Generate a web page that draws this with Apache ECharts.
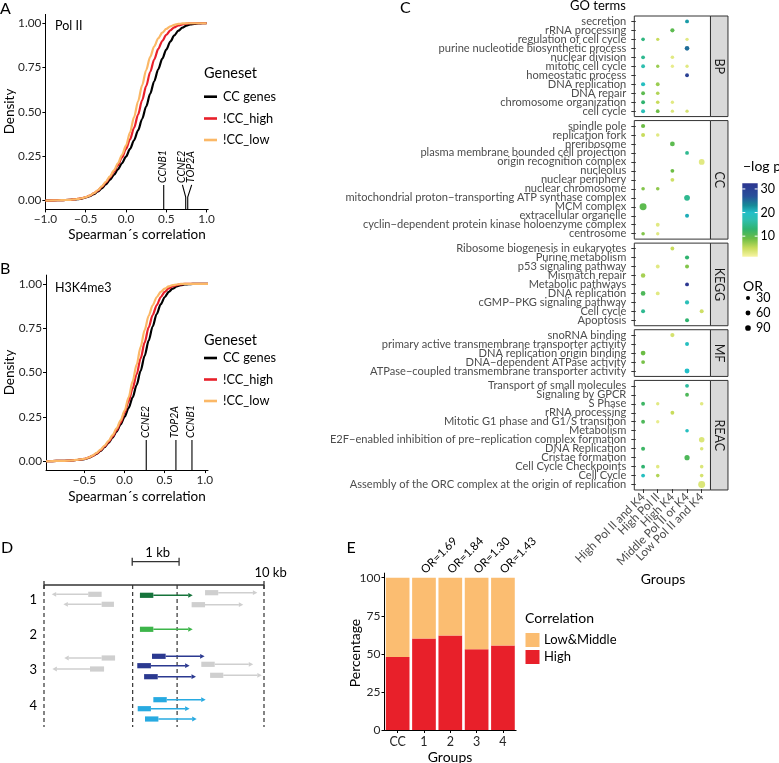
<!DOCTYPE html>
<html><head><meta charset="utf-8">
<script src="https://cdn.jsdelivr.net/npm/echarts@6/dist/echarts.min.js"></script>
<style>html,body{margin:0;padding:0;background:#fff}#c{width:779px;height:763px}</style>
</head><body><div id="c"></div>
<script>
// ================= DATA =================
// Panel A (Pol II): cumulative fraction vs Spearman's correlation, [correlation, fraction]
const polII_CC = [[-1,0],[-0.9,0.001],[-0.8,0.002],[-0.7,0.004],[-0.65,0.006],[-0.6,0.008],[-0.55,0.011],[-0.5,0.017],[-0.45,0.025],[-0.4,0.036],[-0.35,0.051],[-0.3,0.069],[-0.25,0.091],[-0.2,0.116],[-0.15,0.144],[-0.1,0.176],[-0.05,0.21],[0,0.248],[0.05,0.291],[0.1,0.34],[0.15,0.396],[0.2,0.46],[0.25,0.53],[0.3,0.602],[0.35,0.673],[0.4,0.74],[0.45,0.8],[0.5,0.852],[0.55,0.897],[0.6,0.932],[0.65,0.958],[0.7,0.975],[0.75,0.987],[0.8,0.993],[0.85,0.997],[0.9,0.999],[0.95,1],[1,1]];
const polII_high = [[-1,0],[-0.9,0.001],[-0.8,0.002],[-0.7,0.004],[-0.65,0.006],[-0.6,0.009],[-0.55,0.013],[-0.5,0.019],[-0.45,0.028],[-0.4,0.04],[-0.35,0.056],[-0.3,0.077],[-0.25,0.102],[-0.2,0.13],[-0.15,0.163],[-0.1,0.2],[-0.05,0.243],[0,0.29],[0.05,0.345],[0.1,0.41],[0.15,0.485],[0.2,0.565],[0.25,0.645],[0.3,0.725],[0.35,0.795],[0.4,0.855],[0.45,0.9],[0.5,0.935],[0.55,0.96],[0.6,0.977],[0.65,0.988],[0.7,0.994],[0.75,0.998],[0.8,1],[1,1]];
const polII_low = [[-1,0],[-0.9,0.001],[-0.8,0.002],[-0.7,0.004],[-0.65,0.006],[-0.6,0.009],[-0.55,0.013],[-0.5,0.019],[-0.45,0.028],[-0.4,0.041],[-0.35,0.058],[-0.3,0.08],[-0.25,0.106],[-0.2,0.136],[-0.15,0.17],[-0.1,0.21],[-0.05,0.257],[0,0.31],[0.05,0.385],[0.1,0.47],[0.15,0.56],[0.2,0.65],[0.25,0.735],[0.3,0.81],[0.35,0.87],[0.4,0.915],[0.45,0.947],[0.5,0.968],[0.55,0.982],[0.6,0.991],[0.65,0.996],[0.7,0.999],[0.75,1],[1,1]];
// marked genes: [correlation, label position, name]
const polII_genes = [[0.468,0.468,'CCNB1'],[0.741,0.70,'CCNE2'],[0.766,0.815,'TOP2A']];

// Panel B (H3K4me3)
const k4_CC = [[-0.98,0],[-0.9,0.001],[-0.8,0.002],[-0.7,0.003],[-0.65,0.005],[-0.6,0.007],[-0.55,0.009],[-0.5,0.012],[-0.45,0.019],[-0.4,0.029],[-0.35,0.042],[-0.3,0.058],[-0.25,0.079],[-0.2,0.104],[-0.15,0.134],[-0.1,0.168],[-0.05,0.207],[0,0.25],[0.05,0.3],[0.1,0.36],[0.15,0.43],[0.2,0.51],[0.25,0.595],[0.3,0.68],[0.35,0.76],[0.4,0.83],[0.45,0.885],[0.5,0.925],[0.55,0.955],[0.6,0.974],[0.65,0.986],[0.7,0.993],[0.75,0.997],[0.8,0.999],[0.85,1],[1.04,1]];
const k4_high = [[-0.98,0],[-0.9,0.001],[-0.8,0.002],[-0.7,0.003],[-0.65,0.005],[-0.6,0.007],[-0.55,0.01],[-0.5,0.013],[-0.45,0.02],[-0.4,0.03],[-0.35,0.044],[-0.3,0.061],[-0.25,0.083],[-0.2,0.109],[-0.15,0.14],[-0.1,0.175],[-0.05,0.218],[0,0.275],[0.05,0.338],[0.1,0.41],[0.15,0.49],[0.2,0.58],[0.25,0.67],[0.3,0.755],[0.35,0.825],[0.4,0.88],[0.45,0.925],[0.5,0.955],[0.55,0.975],[0.6,0.987],[0.65,0.994],[0.7,0.998],[0.75,1],[1.04,1]];
const k4_low = [[-0.98,0],[-0.9,0.001],[-0.8,0.002],[-0.7,0.003],[-0.65,0.005],[-0.6,0.008],[-0.55,0.01],[-0.5,0.014],[-0.45,0.021],[-0.4,0.032],[-0.35,0.047],[-0.3,0.065],[-0.25,0.088],[-0.2,0.115],[-0.15,0.147],[-0.1,0.185],[-0.05,0.23],[0,0.285],[0.05,0.36],[0.1,0.45],[0.15,0.545],[0.2,0.645],[0.25,0.74],[0.3,0.82],[0.35,0.88],[0.4,0.925],[0.45,0.955],[0.5,0.974],[0.55,0.986],[0.6,0.993],[0.65,0.997],[0.7,1],[1.04,1]];
const k4_genes = [[0.27,0.27,'CCNE2'],[0.64,0.64,'TOP2A'],[0.84,0.84,'CCNB1']];

const genesetNames = ['CC genes','!CC_high','!CC_low'];

// Panel C: GO terms dot plot. dots: [group index, term, -log p, OR]
const goGroups = ['High Pol II and K4','High Pol II','High K4','Middle Pol II or K4','Low Pol II and K4'];
const goTermsBP = ['secretion','rRNA processing','regulation of cell cycle','purine nucleotide biosynthetic process','nuclear division','mitotic cell cycle','homeostatic process','DNA replication','DNA repair','chromosome organization','cell cycle'];
const goDotsBP = [
 [3,'secretion',22,25],
 [2,'rRNA processing',10,35],
 [0,'regulation of cell cycle',14,20],[1,'regulation of cell cycle',5,12],[3,'regulation of cell cycle',3,12],
 [3,'purine nucleotide biosynthetic process',25,50],
 [0,'nuclear division',15,25],[2,'nuclear division',3,18],
 [0,'mitotic cell cycle',17,25],[1,'mitotic cell cycle',7,12],[2,'mitotic cell cycle',2.5,12],[3,'mitotic cell cycle',3,12],
 [3,'homeostatic process',30,25],
 [0,'DNA replication',19,35],[1,'DNA replication',7,25],
 [0,'DNA repair',10,25],[1,'DNA repair',6,18],
 [0,'chromosome organization',13,25],[1,'chromosome organization',5,18],[2,'chromosome organization',3,12],
 [0,'cell cycle',18,30],[1,'cell cycle',9,22],[2,'cell cycle',3.5,12],[3,'cell cycle',4,12]
];
const goTermsCC = ['spindle pole','replication fork','preribosome','plasma membrane bounded cell projection','origin recognition complex','nucleolus','nuclear periphery','nuclear chromosome','mitochondrial proton\u2212transporting ATP synthase complex','MCM complex','extracellular organelle','cyclin\u2212dependent protein kinase holoenzyme complex','centrosome'];
const goDotsCC = [
 [0,'spindle pole',9,35],
 [0,'replication fork',5,30],[1,'replication fork',3,18],
 [2,'preribosome',10,55],
 [3,'plasma membrane bounded cell projection',15,25],
 [4,'origin recognition complex',3,95],
 [2,'nucleolus',9,25],
 [2,'nuclear periphery',4.5,25],
 [0,'nuclear chromosome',8,18],[1,'nuclear chromosome',7.5,18],
 [3,'mitochondrial proton\u2212transporting ATP synthase complex',15,95],
 [0,'MCM complex',10,150],
 [3,'extracellular organelle',21,30],
 [1,'cyclin\u2212dependent protein kinase holoenzyme complex',3,25],
 [0,'centrosome',8,18],[1,'centrosome',3,12]
];
const goTermsKEGG = ['Ribosome biogenesis in eukaryotes','Purine metabolism','p53 signaling pathway','Mismatch repair','Metabolic pathways','DNA replication','cGMP\u2212PKG signaling pathway','Cell cycle','Apoptosis'];
const goDotsKEGG = [
 [2,'Ribosome biogenesis in eukaryotes',5,25],
 [3,'Purine metabolism',13,35],
 [1,'p53 signaling pathway',3,25],[3,'p53 signaling pathway',8,30],
 [0,'Mismatch repair',6.5,45],
 [3,'Metabolic pathways',32,25],
 [0,'DNA replication',11,50],[1,'DNA replication',3,25],
 [3,'cGMP\u2212PKG signaling pathway',18,35],
 [0,'Cell cycle',15,30],[4,'Cell cycle',4.5,30],
 [3,'Apoptosis',13,30]
];
const goTermsMF = ['snoRNA binding','primary active transmembrane transporter activity','DNA replication origin binding','DNA\u2212dependent ATPase activity','ATPase\u2212coupled transmembrane transporter activity'];
const goDotsMF = [
 [2,'snoRNA binding',4,35],
 [3,'primary active transmembrane transporter activity',19,30],
 [0,'DNA replication origin binding',9,55],
 [0,'DNA\u2212dependent ATPase activity',8.5,25],
 [3,'ATPase\u2212coupled transmembrane transporter activity',20,60]
];
const goTermsREAC = ['Transport of small molecules','Signaling by GPCR','S Phase','rRNA processing','Mitotic G1 phase and G1/S transition','Metabolism','E2F\u2212enabled inhibition of pre\u2212replication complex formation','DNA Replication','Cristae formation','Cell Cycle Checkpoints','Cell Cycle','Assembly of the ORC complex at the origin of replication'];
const goDotsREAC = [
 [3,'Transport of small molecules',16,25],
 [3,'Signaling by GPCR',11,25],
 [0,'S Phase',12,25],[1,'S Phase',3,12],[4,'S Phase',3,18],
 [2,'rRNA processing',5,25],
 [0,'Mitotic G1 phase and G1/S transition',11,25],[1,'Mitotic G1 phase and G1/S transition',2.5,12],
 [3,'Metabolism',19,18],
 [4,'E2F\u2212enabled inhibition of pre\u2212replication complex formation',3.5,85],
 [0,'DNA Replication',12,30],[4,'DNA Replication',3.5,18],
 [3,'Cristae formation',11,70],
 [0,'Cell Cycle Checkpoints',13,25],[1,'Cell Cycle Checkpoints',3,18],[4,'Cell Cycle Checkpoints',3.5,18],
 [0,'Cell Cycle',19,25],[1,'Cell Cycle',6,18],[4,'Cell Cycle',4,18],
 [4,'Assembly of the ORC complex at the origin of replication',3.5,150]
];
const logpTicks = [10,20,30];
const orLegend = [30,60,90];

// Panel E
const eGroups = ['CC','1','2','3','4'];
const eHigh = [48,60,62,53,55.5];
const eLowMiddle = [52,40,38,47,44.5];
const eOR = ['','OR=1.69','OR=1.84','OR=1.30','OR=1.43'];

// Panel D schematic: genes [TSS, end of thick box, arrow tip, lane, colour index] (x in schematic kb units)
const dGenes = [
 [2.62,2.01,0.35,0.93,0],[3.18,2.62,0.88,1.93,0],[4.36,4.97,6.76,1.03,1],[7.32,7.92,9.70,0.77,0],[6.71,7.32,9.06,1.97,0],
 [4.36,4.97,6.76,4.43,2],
 [3.23,2.62,0.92,7.3,0],[2.73,2.09,0.38,8.4,0],[4.91,5.53,7.30,7.13,3],[4.24,4.86,6.62,8.07,3],[4.55,5.17,6.91,9.17,3],[7.15,7.76,9.51,7.93,0],[7.55,8.15,9.90,9.03,0],
 [4.97,5.58,7.35,11.47,4],[4.26,4.86,6.62,12.37,4],[4.59,5.20,6.94,13.4,4]
];
const dRuler = [0,10];
const dDashes = [0,4.03,6.05,10];
const dScaleBar = [4.01,6.14];
const dRowLabels = ['1','2','3','4'];
const dRowLanes = [1.5,5.0,8.5,12.1];

// ================= STYLE / LAYOUT =================
const FF = 'Lato, "Open Sans", sans-serif';
const TICK = '#262626';
const GO_LAB = '#4d4d4d';
const COL_CC = '#000000', COL_HIGH = '#e8202a', COL_LOW = '#fbb867';
const D_COLORS = ['#cfcfcf','#16743b','#3db54a','#2b3990','#27aae1'];
const LOGP_STOPS = [[1.3,'#f7f4a3'],[5,'#c8dc5c'],[9,'#6cbd45'],[13,'#2fb36f'],[17,'#2ebfb0'],[20,'#22bfc8'],[23,'#168a98'],[27,'#284f9a'],[32.4,'#2c3590']];
const LOGP_MIN = 1.3, LOGP_MAX = 32.4;

function hexToRgb(h){return [parseInt(h.slice(1,3),16),parseInt(h.slice(3,5),16),parseInt(h.slice(5,7),16)];}
function colorFn(v){
  const s = LOGP_STOPS;
  if (v<=s[0][0]) return s[0][1];
  for (let i=1;i<s.length;i++){
    if (v<=s[i][0]){
      const t=(v-s[i-1][0])/(s[i][0]-s[i-1][0]);
      const a=hexToRgb(s[i-1][1]), b=hexToRgb(s[i][1]);
      return 'rgb('+a.map((x,k)=>Math.round(x+(b[k]-x)*t)).join(',')+')';
    }
  }
  return s[s.length-1][1];
}
const sizeFn = or => Math.sqrt(8 + 0.27*or);

const GA = {left:45.4, top:14.4, width:162.8, height:195};
const GB = {left:46, top:275.1, width:162, height:195};
const C_LEFT = 634.3, C_COLW = 14.65, C_ROWH = 8.98, C_GAP = 4.0, C_TOP0 = 16, STRIP_W = 17.5;
const GO_FS = 11.1;
const facets = [
  {name:'BP', terms:goTermsBP, dots:goDotsBP},
  {name:'CC', terms:goTermsCC, dots:goDotsCC},
  {name:'KEGG', terms:goTermsKEGG, dots:goDotsKEGG},
  {name:'MF', terms:goTermsMF, dots:goDotsMF},
  {name:'REAC', terms:goTermsREAC, dots:goDotsREAC}
];
(function(){ let t=C_TOP0; facets.forEach(f=>{ const h=(f.terms.length+0.2)*C_ROWH; f.top=t; f.bottom=t+h; t+=h+C_GAP; }); })();
const GE = {left:384.5, top:573.1, width:131.6, height:156.9};
const GD = {left:44, top:550, width:220, height:177};

// ================= BUILD =================
const grids=[], xAxes=[], yAxes=[], series=[], gfx=[];

function cdfAxes(g, xmin, xmax, xticks){
  grids.push({left:g.left, top:g.top, width:g.width, height:g.height, outerBoundsMode:'none'});
  xAxes.push({type:'value', gridIndex:grids.length-1, min:xmin, max:xmax,
    axisLine:{show:true, onZero:false, lineStyle:{color:'#000', width:1}},
    axisTick:{show:true, length:3, lineStyle:{color:'#000'}, customValues:xticks},
    axisLabel:{color:TICK, fontSize:11.8, fontFamily:FF, margin:4, customValues:xticks, formatter:v=>(v<0?'\u2212':'')+Math.abs(v).toFixed(1)},
    splitLine:{show:false}});
  yAxes.push({type:'value', gridIndex:grids.length-1, min:-0.05, max:1.05,
    axisLine:{show:true, onZero:false, lineStyle:{color:'#000', width:1}},
    axisTick:{show:true, length:3, lineStyle:{color:'#000'}, customValues:[0,0.25,0.5,0.75,1]},
    axisLabel:{color:TICK, fontSize:11.8, fontFamily:FF, margin:4, customValues:[0,0.25,0.5,0.75,1], formatter:v=>v.toFixed(2)},
    splitLine:{show:false}});
}
function cdfSeries(name, data, color, ax){
  return {type:'line', name, data, xAxisIndex:ax, yAxisIndex:ax, showSymbol:false, symbol:'none',
    smooth:0.3, smoothMonotone:'x', lineStyle:{color, width:2.2}, itemStyle:{color}, z:3, silent:true};
}
function annotSeries(list, ax, knee, top){
  return {type:'custom', xAxisIndex:ax, yAxisIndex:ax, data:list.map(g=>[g[0],g[1]]), z:4, silent:true,
    renderItem(params, api){
      const g=list[params.dataIndex];
      const p0=api.coord([g[0],-0.05]), p1=api.coord([g[0],knee]), p2=api.coord([g[1],top]);
      return {type:'group', children:[
        {type:'polyline', shape:{points:[p0,p1,p2]}, style:{stroke:'#000', lineWidth:1.1, fill:null}},
        {type:'text', x:p2[0]-1, y:p2[1]-2, rotation:Math.PI/2,
          style:{text:g[2], fontStyle:'italic', fontSize:10.5, fontFamily:FF, fill:'#000', align:'left', verticalAlign:'middle'}}
      ]};
    }};
}

// A
cdfAxes(GA, -1.0, 1.02, [-1,-0.5,0,0.5,1]);
series.push(cdfSeries(genesetNames[0], polII_CC, COL_CC, 0));
series.push(cdfSeries(genesetNames[1], polII_high, COL_HIGH, 0));
series.push(cdfSeries(genesetNames[2], polII_low, COL_LOW, 0));
series.push(annotSeries(polII_genes, 0, 0.02, 0.088));
// B
cdfAxes(GB, -0.98, 1.04, [-0.5,0,0.5,1]);
series.push(cdfSeries(genesetNames[0], k4_CC, COL_CC, 1));
series.push(cdfSeries(genesetNames[1], k4_high, COL_HIGH, 1));
series.push(cdfSeries(genesetNames[2], k4_low, COL_LOW, 1));
series.push(annotSeries(k4_genes, 1, 0.06, 0.12));

// C facets
facets.forEach((f,i)=>{
  const n=f.terms.length, last = i===facets.length-1;
  const gi=grids.length;
  grids.push({left:C_LEFT+0.1*C_COLW, top:f.top+0.1*C_ROWH, width:5*C_COLW, height:n*C_ROWH, outerBoundsMode:'none'});
  xAxes.push({type:'category', gridIndex:gi, data:goGroups, show:last,
    axisLine:{show:false}, splitLine:{show:false},
    axisTick:{show:true, alignWithLabel:true, interval:0, length:0.1*C_ROWH+3, lineStyle:{color:'#333'}},
    axisLabel:{show:true, interval:0, rotate:45, margin:6, fontSize:11.8, fontFamily:FF, color:GO_LAB}});
  yAxes.push({type:'category', gridIndex:gi, data:f.terms, inverse:true,
    axisLine:{show:false}, splitLine:{show:false},
    axisTick:{show:true, alignWithLabel:true, interval:0, length:0.1*C_COLW+3, lineStyle:{color:'#333'}},
    axisLabel:{interval:0, margin:9.5, fontSize:GO_FS, fontFamily:FF, color:GO_LAB}});
  series.push({type:'scatter', xAxisIndex:gi, yAxisIndex:gi, data:f.dots, encode:{x:0,y:1}, silent:true, z:3,
    symbol:'circle', symbolSize:v=>sizeFn(v[3]), itemStyle:{color:p=>colorFn(p.value[2]), opacity:1}});
  const pw=5.2*C_COLW;
  gfx.push({type:'rect', shape:{x:C_LEFT, y:f.top, width:pw, height:f.bottom-f.top}, style:{fill:null, stroke:'#333', lineWidth:1}, z:10});
  gfx.push({type:'rect', shape:{x:C_LEFT+pw, y:f.top, width:STRIP_W, height:f.bottom-f.top}, style:{fill:'#d9d9d9', stroke:'#333', lineWidth:1}, z:10});
  gfx.push({type:'text', x:C_LEFT+pw+STRIP_W/2, y:(f.top+f.bottom)/2, rotation:-Math.PI/2,
    style:{text:f.name, fontSize:12.5, fontFamily:FF, fill:'#1a1a1a', align:'center', verticalAlign:'middle'}, z:11});
});

// E
{
  const gi=grids.length;
  grids.push({left:GE.left, top:GE.top, width:GE.width, height:GE.height, outerBoundsMode:'none'});
  xAxes.push({type:'category', gridIndex:gi, data:eGroups,
    axisLine:{show:true, lineStyle:{color:'#000'}}, axisTick:{show:true, alignWithLabel:true, length:3, lineStyle:{color:'#000'}},
    axisLabel:{color:TICK, fontSize:12.5, fontFamily:FF, margin:5, interval:0}, splitLine:{show:false}});
  yAxes.push({type:'value', gridIndex:gi, min:0, max:103,
    axisLine:{show:true, lineStyle:{color:'#000'}},
    axisTick:{show:true, length:3, lineStyle:{color:'#000'}, customValues:[0,25,50,75,100]},
    axisLabel:{color:TICK, fontSize:12, fontFamily:FF, margin:4, customValues:[0,25,50,75,100]}, splitLine:{show:false}});
  series.push({type:'bar', name:'High', xAxisIndex:gi, yAxisIndex:gi, stack:'pct', data:eHigh, barWidth:'90%', itemStyle:{color:COL_HIGH}, silent:true});
  series.push({type:'bar', name:'Low&Middle', xAxisIndex:gi, yAxisIndex:gi, stack:'pct', data:eLowMiddle, barWidth:'90%', itemStyle:{color:'#fbbd71'}, silent:true});
  series.push({type:'custom', xAxisIndex:gi, yAxisIndex:gi, silent:true, z:5,
    data:eGroups.map((g,i)=>[i, eHigh[i]+eLowMiddle[i]]),
    renderItem(params, api){
      const t=eOR[params.dataIndex]; if(!t) return null;
      const p=api.coord([api.value(0), api.value(1)]);
      return {type:'text', x:p[0]-1, y:p[1]-6, rotation:Math.PI/4,
        style:{text:t, fontSize:11.5, fontFamily:FF, fill:'#000', align:'left', verticalAlign:'middle'}};
    }});
}

// D
{
  const gi=grids.length;
  grids.push({left:GD.left, top:GD.top, width:GD.width, height:GD.height, outerBoundsMode:'none'});
  xAxes.push({type:'value', gridIndex:gi, min:0, max:10, show:false});
  yAxes.push({type:'value', gridIndex:gi, min:-3.5, max:14.2, inverse:true, show:false});
  const LANE_END = 14.2;
  series.push({type:'custom', xAxisIndex:gi, yAxisIndex:gi, silent:true, z:2, data:dDashes.map(x=>[x,0]),
    renderItem(params, api){
      const a=api.coord([api.value(0),0]), b=api.coord([api.value(0),LANE_END]);
      return {type:'line', shape:{x1:a[0],y1:a[1],x2:b[0],y2:b[1]}, style:{stroke:'#333', lineWidth:1.2, lineDash:[4,3]}};
    }});
  series.push({type:'custom', xAxisIndex:gi, yAxisIndex:gi, silent:true, z:3,
    data:[[dRuler[0],dRuler[1],0],[dScaleBar[0],dScaleBar[1],-2.33]],
    renderItem(params, api){
      const y=api.value(2);
      const a=api.coord([api.value(0),y]), b=api.coord([api.value(1),y]);
      const th = 4;
      return {type:'group', children:[
        {type:'line', shape:{x1:a[0],y1:a[1],x2:b[0],y2:b[1]}, style:{stroke:'#333', lineWidth:1.3}},
        {type:'line', shape:{x1:a[0],y1:a[1]-th,x2:a[0],y2:a[1]+th}, style:{stroke:'#333', lineWidth:1.3}},
        {type:'line', shape:{x1:b[0],y1:b[1]-th,x2:b[0],y2:b[1]+th}, style:{stroke:'#333', lineWidth:1.3}}
      ]};
    }});
  series.push({type:'custom', xAxisIndex:gi, yAxisIndex:gi, silent:true, z:4, data:dGenes,
    renderItem(params, api){
      const g=dGenes[params.dataIndex];
      const col=D_COLORS[g[4]];
      const pT=api.coord([g[0],g[3]]), pB=api.coord([g[1],g[3]]), pX=api.coord([g[2],g[3]]);
      const dir=Math.sign(pX[0]-pT[0]);
      const hl=4.5, hh=2.4, bh=2.6;
      return {type:'group', children:[
        {type:'line', shape:{x1:pB[0],y1:pB[1],x2:pX[0]-dir*hl,y2:pX[1]}, style:{stroke:col, lineWidth:1.4}},
        {type:'rect', shape:{x:Math.min(pT[0],pB[0]), y:pT[1]-bh, width:Math.abs(pB[0]-pT[0]), height:2*bh}, style:{fill:col}},
        {type:'polygon', shape:{points:[[pX[0],pX[1]],[pX[0]-dir*hl,pX[1]-hh],[pX[0]-dir*hl,pX[1]+hh]]}, style:{fill:col}}
      ]};
    }});
  const dTexts = dRowLabels.map((t,i)=>[-0.49, dRowLanes[i], t]).concat([[5.17,-3.17,'1 kb'],[10.3,-1.17,'10 kb']]);
  series.push({type:'custom', xAxisIndex:gi, yAxisIndex:gi, silent:true, z:5, data:dTexts.map(d=>[d[0],d[1]]),
    renderItem(params, api){
      const d=dTexts[params.dataIndex];
      const p=api.coord([d[0],d[1]]);
      return {type:'text', x:p[0], y:p[1], style:{text:d[2], fontSize:13, fontFamily:FF, fill:'#000', align:'center', verticalAlign:'middle'}};
    }});
}

// ---------- graphic texts / legends ----------
function T(text,x,y,o){ o=o||{}; return {type:'text', x, y, rotation:o.rot||0, z:20,
  style:{text, fontSize:o.fs||13.5, fontFamily:FF, fill:o.fill||'#000', align:o.align||'left', verticalAlign:'middle', fontStyle:o.style||'normal'}}; }
gfx.push(T('A',0,8.5,{fs:16}), T('B',0,268.7,{fs:16}), T('C',400,8,{fs:16}), T('D',1,547.7,{fs:16}), T('E',346.5,548.3,{fs:16}));
gfx.push(T('Pol II',55,26,{fs:12.5}), T('H3K4me3',55,287.7,{fs:12.5}));
gfx.push(T('Density',10,111.5,{rot:Math.PI/2, align:'center'}), T('Density',10,372.5,{rot:Math.PI/2, align:'center'}));
gfx.push(T('Spearman\u00b4s correlation',137,235,{align:'center'}), T('Spearman\u00b4s correlation',137,497,{align:'center'}));
[[73,[96.7,118.5,140]],[340,[358,379.5,401]]].forEach(([ty,ys])=>{
  gfx.push(T('Geneset',204,ty,{fs:14.5}));
  [COL_CC,COL_HIGH,COL_LOW].forEach((c,i)=>{
    gfx.push({type:'line', z:20, shape:{x1:204,y1:ys[i],x2:217,y2:ys[i]}, style:{stroke:c, lineWidth:2.6}});
    gfx.push(T(genesetNames[i],223,ys[i],{fs:12.8}));
  });
});
gfx.push(T('GO terms',598,6,{fs:13, align:'center'}), T('Groups',663,579,{fs:14, align:'center'}));
gfx.push(T('\u2212log p',743,166.7,{fs:14}));
{
  const bx=742.3, by=183.3, bw=15.4, bh=73.4;
  gfx.push({type:'rect', z:20, shape:{x:bx,y:by,width:bw,height:bh},
    style:{fill:{type:'linear', x:0, y:1, x2:0, y2:0, colorStops:LOGP_STOPS.map(s=>({offset:(s[0]-LOGP_MIN)/(LOGP_MAX-LOGP_MIN), color:s[1]}))}}});
  logpTicks.forEach(v=>{
    const y=by+bh-(v-LOGP_MIN)/(LOGP_MAX-LOGP_MIN)*bh;
    gfx.push({type:'line', z:21, shape:{x1:bx,y1:y,x2:bx+3,y2:y}, style:{stroke:'#fff', lineWidth:1}});
    gfx.push({type:'line', z:21, shape:{x1:bx+bw-3,y1:y,x2:bx+bw,y2:y}, style:{stroke:'#fff', lineWidth:1}});
    gfx.push(T(String(v),760.5,y,{fs:12.5}));
  });
}
gfx.push(T('OR',743,286,{fs:14}));
[298,313,328].forEach((y,i)=>{
  gfx.push({type:'circle', z:20, shape:{cx:748,cy:y,r:sizeFn(orLegend[i])/2}, style:{fill:'#000'}});
  gfx.push(T(String(orLegend[i]),756,y,{fs:12.5}));
});
gfx.push(T('Percentage',355,653,{rot:Math.PI/2, align:'center', fs:14}), T('Groups',450,757,{align:'center', fs:14}));
gfx.push(T('Correlation',525,618.3,{fs:14}));
gfx.push({type:'rect', z:20, shape:{x:525.5,y:633,width:14,height:14}, style:{fill:'#fbbd71'}});
gfx.push({type:'rect', z:20, shape:{x:525.5,y:650,width:14,height:14}, style:{fill:COL_HIGH}});
gfx.push(T('Low&Middle',544,640,{fs:13}), T('High',544,657,{fs:13}));

const chart = echarts.init(document.getElementById('c'), null, {renderer:'canvas'});
chart.setOption({
  animation:false, backgroundColor:'#fff', textStyle:{fontFamily:FF},
  grid:grids, xAxis:xAxes, yAxis:yAxes, series, graphic:{elements:gfx}
});
</script></body></html>
